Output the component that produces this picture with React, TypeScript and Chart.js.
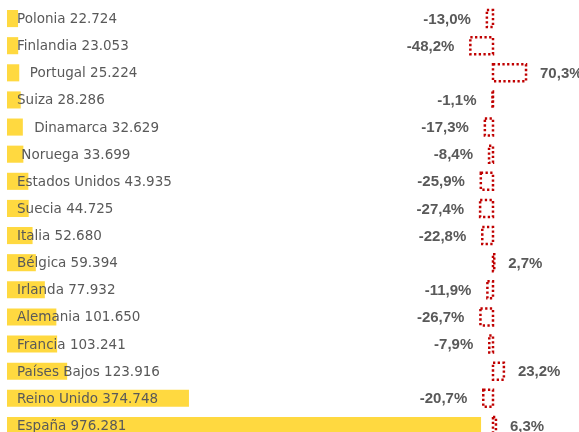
import React, { useEffect, useRef } from "react";
import { Chart, registerables } from "chart.js";

Chart.register(...registerables);

const countries = [
  "Polonia",
  "Finlandia",
  "   Portugal",
  "Suiza",
  "    Dinamarca",
  " Noruega",
  "Estados Unidos",
  "Suecia",
  "Italia",
  "Bélgica",
  "Irlanda",
  "Alemania",
  "Francia",
  "Países Bajos",
  "Reino Unido",
  "España",
];

const visitors = [
  22724, 23053, 25224, 28286, 32629, 33699, 43935, 44725, 52680, 59394, 77932,
  101650, 103241, 123916, 374748, 976281,
];

const changePct = [
  -13.0, -48.2, 70.3, -1.1, -17.3, -8.4, -25.9, -27.4, -22.8, 2.7, -11.9, -26.7,
  -7.9, 23.2, -20.7, 6.3,
];

const FONT = '"DejaVu Sans", sans-serif';
const PCT_FONT = '"Liberation Sans", Arial, sans-serif';
const TEXT = "#595959";

function fmtThousands(n: number): string {
  return String(n).replace(/\B(?=(\d{3})+(?!\d))/g, ".");
}
function fmtPct(v: number): string {
  return v.toFixed(1).replace(".", ",") + "%";
}

const overlayPlugin = {
  id: "overlay",
  afterDatasetsDraw(chart: any) {
    const ctx = chart.ctx as CanvasRenderingContext2D;
    const yellowMeta = chart.getDatasetMeta(0);
    const redMeta = chart.getDatasetMeta(1);
    const xs = chart.scales.x;
    ctx.save();
    // dotted red boxes
    ctx.strokeStyle = "#C00000";
    ctx.lineWidth = 2.5;
    ctx.setLineDash([2.3, 2.4]);
    redMeta.data.forEach((el: any) => {
      const left = Math.min(el.x, el.base);
      const w = Math.abs(el.x - el.base);
      ctx.strokeRect(left, el.y - el.height / 2, w, el.height);
    });
    ctx.setLineDash([]);
    // category labels
    ctx.fillStyle = TEXT;
    ctx.font = `13.5px ${FONT}`;
    ctx.textBaseline = "middle";
    ctx.textAlign = "left";
    const x0 = xs.getPixelForValue(0);
    yellowMeta.data.forEach((el: any, i: number) => {
      ctx.fillText(countries[i] + " " + fmtThousands(visitors[i]), x0 + 10, el.y + 1);
    });
    // percentage labels
    ctx.font = `bold 15px ${PCT_FONT}`;
    redMeta.data.forEach((el: any, i: number) => {
      const v = changePct[i];
      if (v < 0) {
        ctx.textAlign = "right";
        ctx.fillText(fmtPct(v), Math.min(el.x, el.base) - 16, el.y + 1);
      } else {
        ctx.textAlign = "left";
        ctx.fillText(fmtPct(v), Math.max(el.x, el.base) + 14, el.y + 1);
      }
    });
    ctx.restore();
  },
};

export default function App() {
  const ref = useRef<HTMLCanvasElement | null>(null);
  useEffect(() => {
    if (!ref.current) return;
    const chart = new Chart(ref.current, {
      type: "bar",
      data: {
        labels: countries,
        datasets: [
          {
            data: visitors,
            xAxisID: "x",
            backgroundColor: "#FFD940",
            borderWidth: 0,
            barPercentage: 0.63,
            categoryPercentage: 1,
            grouped: false,
          } as any,
          {
            data: changePct,
            xAxisID: "x2",
            backgroundColor: "rgba(0,0,0,0)",
            borderWidth: 0,
            barPercentage: 0.63,
            categoryPercentage: 1,
            grouped: false,
          } as any,
        ],
      },
      options: {
        indexAxis: "y",
        animation: false,
        responsive: false,
        layout: { padding: { left: 7, right: 0, top: 5, bottom: 1 } },
        plugins: {
          legend: { display: false },
          tooltip: { enabled: false },
        },
        scales: {
          x: { display: false, min: 0, max: 1178000 },
          x2: { display: false, min: -1034, max: 183 },
          y: { display: false },
        },
      },
      plugins: [overlayPlugin],
    });
    return () => chart.destroy();
  }, []);
  return (
    <div
      style={{
        position: "absolute",
        left: 0,
        top: 0,
        width: 579,
        height: 432,
        overflow: "hidden",
        background: "#fff",
      }}
    >
      <canvas ref={ref} width={579} height={440} style={{ display: "block" }} />
    </div>
  );
}
